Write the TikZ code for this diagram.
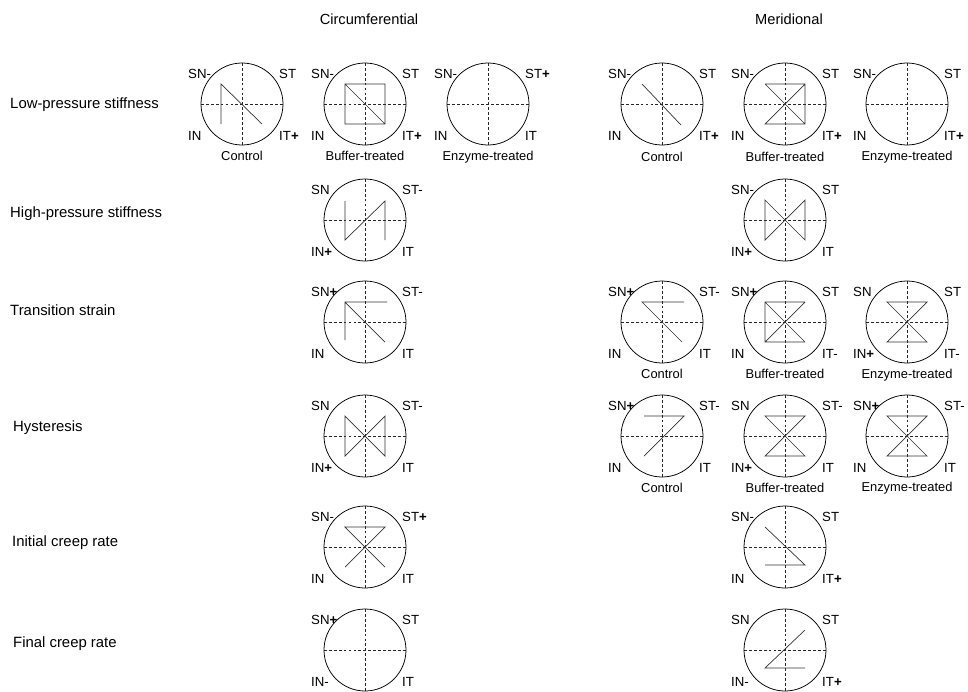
\documentclass[tikz,border=0pt]{standalone}
\usepackage{fontspec}
\setmainfont{Liberation Sans}
\usetikzlibrary{positioning}
\newcommand\pl{\textbf{+}}

\begin{document}
\begin{tikzpicture}[
  x=0.03cm, y=-0.03cm,
  ring/.style={draw=black, line width=0.65pt},
  axis/.style={draw=black!85, line width=0.45pt, dash pattern=on 2.4pt off 1.8pt},
  trace/.style={draw=black!80, line width=0.6pt, line join=miter},
  cor/.style={inner sep=0pt, anchor=west, font=\fontsize{11.3}{13}\selectfont},
  sub/.style={inner sep=0pt, font=\fontsize{11}{13}\selectfont},
  rowlab/.style={inner sep=0pt, anchor=west, font=\fontsize{12.7}{15}\selectfont},
  head/.style={inner sep=0pt, font=\fontsize{12.5}{15}\selectfont},
  pics/dial/.style n args={5}{code={
    \draw[axis] (-41,0) -- (41,0);
    \draw[axis] (0,-41) -- (0,41);
    \draw[ring] (0,0) circle (41);
    \draw[trace] #5;
    \node[cor] (-sn) at (-54,-30) {#1};
    \node[cor] (-st) at (37,-30) {#2};
    \node[cor] (-in) at (-54,32) {#3};
    \node[cor] (-it) at (37,32) {#4};
  }}
]
\useasboundingbox (0,0) rectangle (968,692);

\node[head] (circ) at (369,19) {Circumferential};
\node[head] (meri) at (789,19) {Meridional};

\node[rowlab] (lps) at (10,105) {Low-pressure stiffness};
\node[rowlab] (hps) at (10,214) {High-pressure stiffness};
\node[rowlab] (trs) at (10,310) {Transition strain};
\node[rowlab] (hys) at (13,428) {Hysteresis};
\node[rowlab] (icr) at (12,543) {Initial creep rate};
\node[rowlab] (fcr) at (13,644) {Final creep rate};

% circumferential
\pic (c1a) at (242,104) {dial={SN-}{ST}{IN}{IT\pl}{(-21,20) -- (-21,-20) -- (20,20)}};
\pic (c1b) at (365,104) {dial={SN-}{ST}{IN}{IT\pl}{(-20,-20) rectangle (20,20) (-20,-20) -- (20,20)}};
\pic (c1c) at (488,104) {dial={SN-}{ST\pl}{IN}{IT}{(0,0)}};
\pic (c2) at (365,220) {dial={SN}{ST-}{IN\pl}{IT}{(-20,-19) -- (-20,20) -- (20,-19) -- (20,20)}};
\pic (c3) at (365,322) {dial={SN\pl}{ST-}{IN}{IT}{(22,-20) -- (-20,-20) -- (-20,18) (-20,-20) -- (20,20)}};
\pic (c4) at (365,436) {dial={SN}{ST-}{IN\pl}{IT}{(-20,-20) -- (20,20) -- (20,-20) -- (-20,20) -- cycle}};
\pic (c5) at (365,547) {dial={SN-}{ST\pl}{IN}{IT}{(-20,20) -- (20,-20) -- (-20,-20) -- (20,20)}};
\pic (c6) at (365,650) {dial={SN\pl}{ST}{IN-}{IT}{(0,0)}};

% meridional
\pic (m1a) at (662,104) {dial={SN-}{ST}{IN}{IT\pl}{(-20,-20) -- (19,21)}};
\pic (m1b) at (785,104) {dial={SN-}{ST}{IN}{IT\pl}{(-20,-20) -- (20,-20) -- (20,20) -- (-20,20) -- (20,-20) (-20,-20) -- (20,20)}};
\pic (m1c) at (907,104) {dial={SN-}{ST}{IN}{IT\pl}{(0,0)}};
\pic (m2) at (785,220) {dial={SN-}{ST}{IN\pl}{IT}{(-20,-20) -- (20,20) -- (20,-20) -- (-20,20) -- cycle}};
\pic (m3a) at (662,322) {dial={SN\pl}{ST-}{IN}{IT}{(22,-20) -- (-20,-20) -- (20,20)}};
\pic (m3b) at (785,322) {dial={SN\pl}{ST}{IN}{IT-}{(20,-20) -- (-20,-20) -- (-20,20) -- (20,20) (-20,-20) -- (20,20) (-20,20) -- (20,-20)}};
\pic (m3c) at (907,322) {dial={SN}{ST}{IN\pl}{IT-}{(-20,-20) -- (20,-20) -- (-20,20) -- (20,20) -- cycle}};
\pic (m4a) at (662,436) {dial={SN\pl}{ST-}{IN}{IT}{(-18,-20) -- (22,-20) -- (-18,20)}};
\pic (m4b) at (785,436) {dial={SN}{ST-}{IN\pl}{IT}{(-20,-20) -- (20,-20) -- (-20,20) -- (20,20) -- cycle}};
\pic (m4c) at (907,436) {dial={SN\pl}{ST-}{IN}{IT}{(-20,-20) -- (20,-20) -- (-20,20) -- (20,20) -- cycle}};
\pic (m5) at (785,547) {dial={SN-}{ST}{IN}{IT\pl}{(-20,-20) -- (20,18) -- (-20,18)}};
\pic (m6) at (785,650) {dial={SN}{ST}{IN-}{IT\pl}{(20,-20) -- (-20,18) -- (20,18)}};

\node[sub] (c1a-lab) at (242,156) {Control};
\node[sub] (c1b-lab) at (365,156) {Buffer-treated};
\node[sub] (c1c-lab) at (488,157) {Enzyme-treated};
\node[sub] (m1a-lab) at (662,157) {Control};
\node[sub] (m1b-lab) at (785,157) {Buffer-treated};
\node[sub] (m1c-lab) at (907,157) {Enzyme-treated};
\node[sub] (m3a-lab) at (662,374) {Control};
\node[sub] (m3b-lab) at (785,374) {Buffer-treated};
\node[sub] (m3c-lab) at (907,375) {Enzyme-treated};
\node[sub] (m4a-lab) at (662,488) {Control};
\node[sub] (m4b-lab) at (785,488) {Buffer-treated};
\node[sub] (m4c-lab) at (907,488) {Enzyme-treated};
\end{tikzpicture}
\end{document}
